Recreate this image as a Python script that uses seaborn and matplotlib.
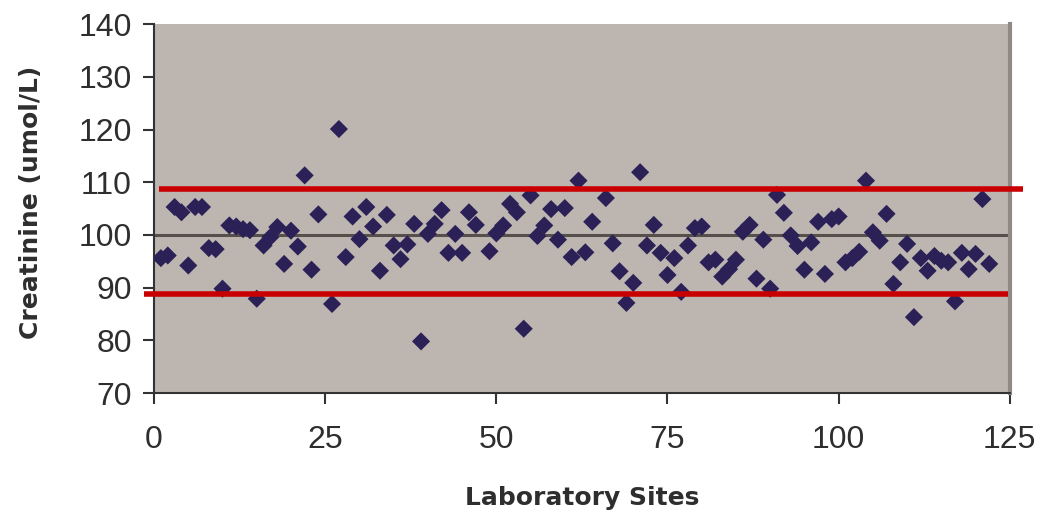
import matplotlib
matplotlib.use("Agg")
import matplotlib.pyplot as plt
import seaborn as sns
import pandas as pd

# ---- data ----
sites = [1, 2, 3, 4, 5, 6, 7, 8, 9, 10, 11, 12, 13, 14, 15, 16, 17, 18, 19, 20,
         21, 22, 23, 24, 26, 27, 28, 29, 30, 31, 32, 33, 34, 35, 36, 37, 38, 39, 40,
         41, 42, 43, 44, 45, 46, 47, 49, 50, 51, 52, 53, 54, 55, 56, 57, 58, 59, 60,
         61, 62, 63, 64, 66, 67, 68, 69, 70, 71, 72, 73, 74, 75, 76, 77, 78, 79, 80,
         81, 82, 83, 84, 85, 86, 87, 88, 89, 90, 91, 92, 93, 94, 95, 96, 97, 98, 99,
         100, 101, 102, 103, 104, 105, 106, 107, 108, 109, 110, 111, 112, 113, 114,
         115, 116, 117, 118, 119, 120, 121, 122]
creatinine = [95.6, 96.1, 105.3, 104.3, 94.2, 105.3, 105.3, 97.5, 97.3, 89.8, 101.8,
              101.6, 101.1, 100.9, 87.9, 98.0, 99.6, 101.5, 94.5, 100.8, 97.8, 111.3,
              93.4, 103.9, 86.9, 120.1, 95.8, 103.5, 99.2, 105.3, 101.6, 93.2, 103.8,
              98.0, 95.4, 98.2, 102.1, 79.8, 100.2, 102.1, 104.7, 96.6, 100.2, 96.6,
              104.3, 101.9, 96.9, 100.3, 101.8, 105.9, 104.3, 82.2, 107.5, 99.8, 101.8,
              104.9, 99.1, 105.1, 95.8, 110.3, 96.7, 102.5, 107.0, 98.4, 93.1, 87.1,
              90.9, 111.9, 98.0, 101.9, 96.6, 92.4, 95.6, 89.2, 98.0, 101.3, 101.6,
              94.8, 95.3, 92.1, 93.5, 95.3, 100.6, 101.9, 91.7, 99.1, 89.8, 107.6,
              104.2, 99.9, 97.9, 93.4, 98.6, 102.5, 92.6, 103.0, 103.5, 94.8, 95.6,
              96.8, 110.3, 100.5, 98.9, 104.0, 90.7, 94.8, 98.3, 84.4, 95.6, 93.2,
              96.0, 95.1, 94.8, 87.4, 96.6, 93.5, 96.4, 106.8, 94.5]

target_value = 100.0
upper_limit = 108.8
lower_limit = 88.7
upper_span = [0.7, 126.9]
lower_span = [-1.5, 124.7]
x_ticks = [0, 25, 50, 75, 100, 125]
y_ticks = [70, 80, 90, 100, 110, 120, 130, 140]

df = pd.DataFrame({"site": sites, "creatinine": creatinine})

sns.set_theme(style="white")
plt.rcParams["font.family"] = ["Liberation Sans", "DejaVu Sans"]

fig = plt.figure(figsize=(10.41, 5.14), dpi=100)
ax = fig.add_axes([0.148, 0.2354, 0.822, 0.7176])
ax.set_facecolor("#bcb5b0")

ax.axhline(target_value, color="#55504c", lw=2.2, zorder=1)

sns.scatterplot(data=df, x="site", y="creatinine", marker="D", s=85,
                color="#2b2157", edgecolor="none", ax=ax, zorder=3)

ax.plot(upper_span, [upper_limit, upper_limit], color="#c80000", lw=4,
        clip_on=False, zorder=4, solid_capstyle="butt")
ax.plot(lower_span, [lower_limit, lower_limit], color="#c80000", lw=4,
        clip_on=False, zorder=4, solid_capstyle="butt")

ax.set_xlim(0, 125)
ax.set_ylim(70, 140)
ax.set_xticks(x_ticks)
ax.set_yticks(y_ticks)

ax.spines["top"].set_visible(False)
ax.spines["right"].set_color("#8f8a86")
ax.spines["right"].set_linewidth(3)
ax.spines["left"].set_color("#333333")
ax.spines["bottom"].set_color("#333333")
ax.spines["left"].set_linewidth(1.5)
ax.spines["bottom"].set_linewidth(1.5)

ax.tick_params(axis="both", which="major", direction="out", length=8, width=1.5,
               color="#333333", labelsize=23, labelcolor="#2e2e2e",
               left=True, bottom=True)
ax.tick_params(axis="y", pad=8)
ax.tick_params(axis="x", pad=15)

label_font = dict(family="DejaVu Sans", fontsize=18, fontweight="bold", color="#2e2e2e")
ax.set_xlabel("Laboratory Sites", **label_font)
ax.set_ylabel("Creatinine (umol/L)", **label_font)
ax.xaxis.label.set_va("center")
ax.yaxis.label.set_va("center")
ax.xaxis.set_label_coords(0.5, -0.284)
ax.yaxis.set_label_coords(-0.1437, 0.518)

fig.savefig("out.png", dpi=100, facecolor="white")
